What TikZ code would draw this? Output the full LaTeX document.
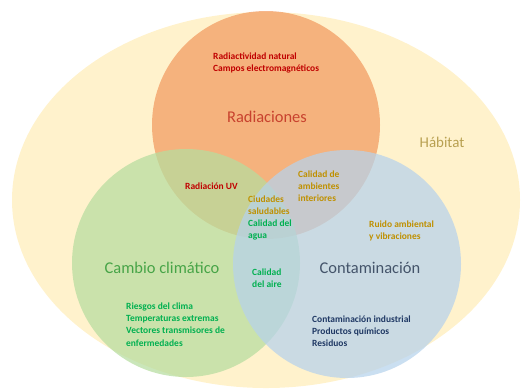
\documentclass[tikz,border=0pt]{standalone}
\usepackage{fontspec}
\setmainfont{Carlito}
\usetikzlibrary{positioning}
\definecolor{habitat}{HTML}{FFF2CC}
\definecolor{radfill}{HTML}{F29A5F}
\definecolor{climfill}{HTML}{B6DD9F}
\definecolor{contfill}{HTML}{B6D2EC}
\definecolor{darkred}{HTML}{C00000}
\definecolor{redtitle}{HTML}{C8422E}
\definecolor{gold}{HTML}{BF9000}
\definecolor{habtext}{HTML}{B8A050}
\definecolor{green}{HTML}{00B050}
\definecolor{greentitle}{HTML}{47A447}
\definecolor{slate}{HTML}{44546A}
\definecolor{navy}{HTML}{1F3864}
\tikzset{
  ring/.style={circle,minimum size=228bp,inner sep=0pt,fill opacity=.72},
  smalltxt/.style={font=\fontsize{9.5}{12.2}\selectfont\bfseries,align=left,anchor=west,inner sep=0pt},
  bigtxt/.style={font=\fontsize{16.5}{19}\selectfont,inner sep=0pt}
}

\begin{document}
\begin{tikzpicture}[x=1bp,y=-1bp]
\useasboundingbox (0,0) rectangle (524,390);
\fill[habitat] (266,200) ellipse [x radius=254,y radius=188];
\node[ring,fill=radfill] (radc) at (266,125){};
\node[ring,fill=climfill] (climc) at (186,263){};
\node[ring,fill=contfill] (contc) at (347,264){};
% labels of the three circles
\node[bigtxt,text=redtitle] (rad) at (267,117){Radiaciones};
\node[bigtxt,text=greentitle] (clim) at (162,268){Cambio climático};
\node[bigtxt,text=slate] (cont) at (370,268){Contaminación};
\node[bigtxt,text=habtext,font=\fontsize{15}{18}\selectfont] (hab) at (442,142){Hábitat};
% items
\node[smalltxt,text=darkred] (nat) at (213,63){Radiactividad natural\\Campos electromagnéticos};
\node[smalltxt,text=darkred] (uv) at (185,186){Radiación UV};
\node[smalltxt,text=gold] (inter) at (298,186){Calidad de\\ambientes\\interiores};
\node[smalltxt,text=gold] (ciud) at (248,205.5){Ciudades\\saludables};
\node[smalltxt,text=green] (agua) at (248,230){Calidad del\\agua};
\node[smalltxt,text=green] (aire) at (252,278){Calidad\\del aire};
\node[smalltxt,text=gold] (ruido) at (369,230.5){Ruido ambiental\\y vibraciones};
\node[smalltxt,text=green] (riesg) at (126,324.5){Riesgos del clima\\Temperaturas extremas\\Vectores transmisores de\\enfermedades};
\node[smalltxt,text=navy] (quim) at (312,331){Contaminación industrial\\Productos químicos\\Residuos};
\end{tikzpicture}
\end{document}
